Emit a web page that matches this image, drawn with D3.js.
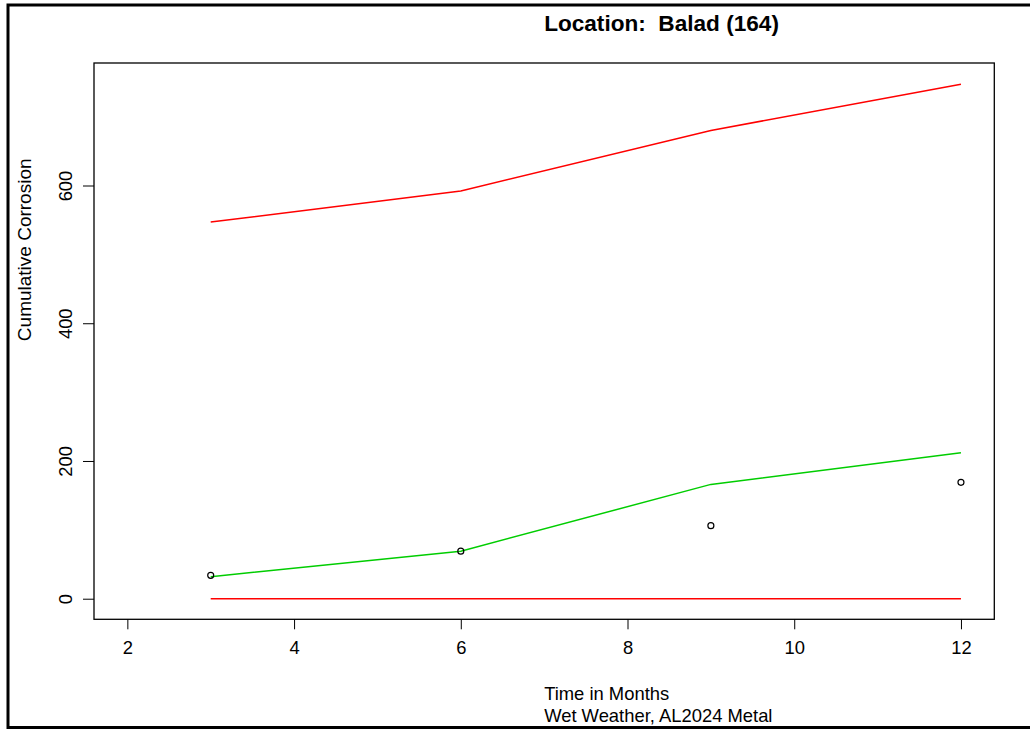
<!DOCTYPE html>
<html><head><meta charset="utf-8">
<script src="https://cdn.jsdelivr.net/npm/d3@7"></script>
<style>
html,body{margin:0;padding:0;background:#fff;}
svg{display:block;font-family:"Liberation Sans",Arial,sans-serif;}
text{white-space:pre;}
</style></head>
<body>
<svg id="c" width="1030" height="729"></svg>
<script>
const months = [3, 6, 9, 12];
const upperBound = [547, 592, 680, 747];
const fitted = [32, 69, 166, 212];
const observed = [34, 69, 106, 169];
const lowerBound = [0, 0, 0, 0];
const xTicks = [2, 4, 6, 8, 10, 12];
const yTicks = [0, 200, 400, 600];
const titleText = "Location:  Balad (164)";
const xLabel = "Time in Months";
const subLabel = "Wet Weather, AL2024 Metal";
const yLabel = "Cumulative Corrosion";

const svg = d3.select("#c");
// outer frame
svg.append("rect").attr("x", 8).attr("y", 5).attr("width", 1030).attr("height", 722.5)
  .attr("fill", "none").attr("stroke", "#000").attr("stroke-width", 3);

const x = d3.scaleLinear().domain([1.6, 12.4]).range([94, 994.3]);
const y = d3.scaleLinear().domain([-29.9, 777.9]).range([619.3, 63]);

// plot box
svg.append("rect").attr("x", x(1.6)).attr("y", y(777.9))
  .attr("width", x(12.4) - x(1.6)).attr("height", y(-29.9) - y(777.9))
  .attr("fill", "none").attr("stroke", "#000").attr("stroke-width", 1.3);

const fs = 18.4;
const xa = svg.append("g").attr("transform", `translate(0,${y(-29.9)})`)
  .call(d3.axisBottom(x).tickValues(xTicks).tickSize(10).tickPadding(12).tickFormat(d3.format("d")));
xa.select(".domain").remove();
xa.selectAll("text").attr("font-size", fs).attr("fill", "#000").attr("font-family", "Liberation Sans, Arial, sans-serif");
xa.selectAll("line").attr("stroke", "#000");

const ya = svg.append("g").attr("transform", `translate(${x(1.6)},0)`)
  .call(d3.axisLeft(y).tickValues(yTicks).tickSize(11).tickFormat(d3.format("d")));
ya.select(".domain").remove();
ya.selectAll("line").attr("stroke", "#000");
ya.selectAll("text").attr("font-size", fs).attr("fill", "#000").attr("font-family", "Liberation Sans, Arial, sans-serif")
  .attr("x", null).attr("dy", null)
  .attr("text-anchor", "middle")
  .attr("transform", "translate(-22,0) rotate(-90)");

const line = d3.line().x((d, i) => x(months[i])).y(d => y(d));
svg.append("path").datum(upperBound).attr("d", line).attr("fill", "none").attr("stroke", "#ff0000").attr("stroke-width", 1.5);
svg.append("path").datum(lowerBound).attr("d", line).attr("fill", "none").attr("stroke", "#ff0000").attr("stroke-width", 1.5);
svg.append("path").datum(fitted).attr("d", line).attr("fill", "none").attr("stroke", "#00cd00").attr("stroke-width", 1.5);

svg.selectAll("circle.obs").data(observed).enter().append("circle").attr("class", "obs")
  .attr("cx", (d, i) => x(months[i])).attr("cy", d => y(d)).attr("r", 3)
  .attr("fill", "none").attr("stroke", "#000").attr("stroke-width", 1.2);

const midX = (x(1.6) + x(12.4)) / 2;
const midY = (y(-29.9) + y(777.9)) / 2;
svg.append("text").attr("x", midX).attr("y", 31).attr("font-size", 22.6).attr("font-weight", "bold").text(titleText);
svg.append("text").attr("x", midX).attr("y", 700).attr("font-size", fs).text(xLabel);
svg.append("text").attr("x", midX).attr("y", 722).attr("font-size", fs).text(subLabel);
svg.append("text").attr("transform", `translate(31,${midY}) rotate(-90)`).attr("font-size", 19).text(yLabel);
</script>
</body></html>
